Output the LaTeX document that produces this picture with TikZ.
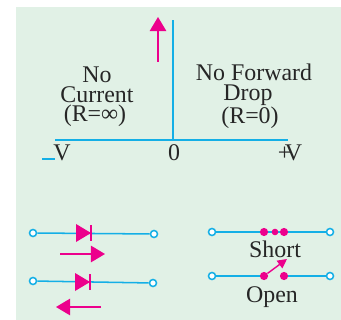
\documentclass[tikz,border=0pt]{standalone}
\usepackage{fontspec}
\setmainfont{Liberation Serif}
\usetikzlibrary{arrows.meta,positioning}
\definecolor{cwire}{RGB}{20,175,230}
\definecolor{cmag}{RGB}{236,0,140}
\definecolor{cpanel}{RGB}{225,241,230}
\tikzset{
  wire/.style={cwire,line width=1.3pt},
  term/.style={circle,draw=cwire,fill=white,line width=1.3pt,inner sep=0pt,minimum size=6pt},
  contact/.style={circle,fill=cmag,inner sep=0pt,minimum size=7pt},
  lab/.style={font=\fontsize{20.4}{20}\selectfont,text=black!85,inner sep=0pt,anchor=base},
  magarr/.style={cmag,line width=1.2pt,-{Triangle[length=12pt,width=14pt]}},
  smallarr/.style={cmag,line width=1.2pt,-{Triangle[length=8pt,width=8pt]}},
  diodebar/.style={cmag,line width=1.2pt}
}
\begin{document}
\begin{tikzpicture}[x=0.3mm,y=-0.3mm]
\useasboundingbox (0,0) rectangle (341,320);
\fill[cpanel] (16,7.5) rectangle (341,320);
% ---------- characteristic ----------
\coordinate (origin) at (173,140);
\coordinate (top) at (173,20);
\coordinate (left) at (55,140);
\coordinate (right) at (288,140);
\draw[wire] (left) -- (right);
\draw[wire] (origin) -- (top);
\coordinate (iTail) at (158,62);
\coordinate (iTip) at (158,17);
\draw[magarr] (iTail) -- (iTip);
\node[lab] (noCur) at (97,83) {No};
\node[lab] (cur) at (97,103) {Current};
\node[lab] (rInf) at (95,122) {(R=∞)};
\node[lab] (noFwd) at (254,81) {No Forward};
\node[lab] (drop) at (248,101) {Drop};
\node[lab] (rZero) at (250,124) {(R=0)};
\coordinate (dashL) at (42,159);
\coordinate (dashR) at (55,159);
\draw[wire] (dashL) -- (dashR);
\node[lab] (vMinus) at (62,161) {V};
\node[lab] (zero) at (174,161) {0};
\node[lab] (vPlus) at (290,161) {+\kern-0.28em V};
% ---------- forward diode ----------
\node[term] (a1) at (33,233) {};
\node[term] (b1) at (154,234) {};
\draw[wire] (a1) -- (b1);
\fill[cmag] (76,224) -- (91,233) -- (76,242) -- cycle;
\draw[diodebar] (91,225) -- (91,241);
\coordinate (f1) at (60,254);
\coordinate (f2) at (105,254);
\draw[magarr] (f1) -- (f2);
% ---------- reverse diode ----------
\node[term] (a2) at (33,281) {};
\node[term] (b2) at (153,283) {};
\draw[wire] (a2) -- (b2);
\fill[cmag] (75,273) -- (90,282) -- (75,291) -- cycle;
\draw[diodebar] (90,274) -- (90,290);
\coordinate (r1) at (101,307);
\coordinate (r2) at (56,307);
\draw[magarr] (r1) -- (r2);
% ---------- short ----------
\node[term] (a3) at (212,232) {};
\node[term] (b3) at (330,232) {};
\draw[wire] (a3) -- (b3);
\node[contact] (s1) at (264,232) {};
\node[contact,minimum size=5.6pt] (s2) at (275,232) {};
\node[contact] (s3) at (284,232) {};
\node[lab] (short) at (275,257) {Short};
% ---------- open ----------
\node[term] (a4) at (212,276) {};
\node[term] (b4) at (330,276) {};
\node[contact] (o1) at (264,276) {};
\node[contact] (o2) at (284,276) {};
\draw[wire] (a4) -- (o1);
\draw[wire] (o2) -- (b4);
\coordinate (swTip) at (287,259);
\draw[smallarr] (o1) -- (swTip);
\node[lab] (open) at (272,302) {Open};
\end{tikzpicture}
\end{document}
